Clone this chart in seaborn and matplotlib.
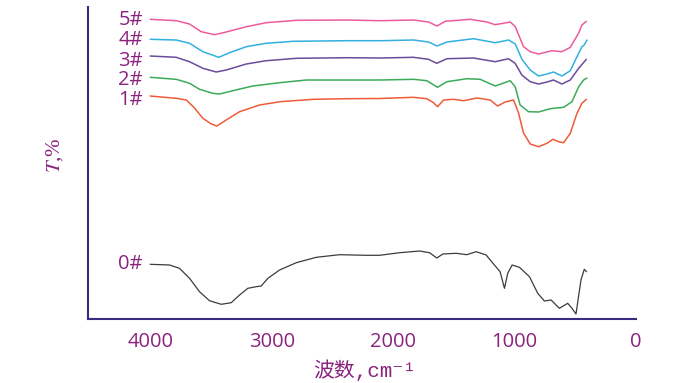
import matplotlib
matplotlib.use("Agg")
import matplotlib.pyplot as plt
import seaborn as sns
import pandas as pd

# wavenumber (cm-1) / transmittance (arbitrary offset units)
wn_1 = [4000, 3786, 3703, 3635, 3569, 3497, 3451, 3374, 3264, 3100, 2930, 2656, 2380, 2106,
        1832, 1722, 1667, 1634, 1585, 1502, 1420, 1310, 1200, 1140, 1077, 1008, 967, 926,
        871, 802, 733, 684, 638, 596, 541, 486, 445, 409]
t_1 = [223, 220.7, 219, 211, 201, 195, 193, 199, 207.3, 214, 217.3, 219.7, 220.3, 220.5,
       221.7, 220.3, 216.3, 212.3, 219, 219.7, 218.3, 221, 219, 213, 217, 219, 206, 186,
       175, 172.3, 175.7, 179.7, 177.3, 176.3, 185.7, 205.7, 215.7, 219.7]

wn_2 = [4000, 3786, 3676, 3594, 3484, 3429, 3320, 3155, 2935, 2715, 2386, 2106, 1832, 1722,
        1634, 1557, 1392, 1283, 1159, 1036, 995, 954, 885, 802, 706, 596, 527, 472, 431, 404]
t_2 = [241.7, 239.7, 235.7, 229.7, 225.7, 225, 228.3, 233, 236.3, 239, 239, 239, 239.7, 238.3,
       231.7, 237.3, 240.3, 239.7, 233, 238.3, 232.3, 214, 207.3, 207, 210.3, 211.7, 217.3,
       232.3, 239, 241]

wn_3 = [4000, 3786, 3676, 3566, 3456, 3374, 3209, 3045, 2797, 2386, 2106, 1832, 1709, 1640,
        1557, 1338, 1159, 1050, 995, 940, 871, 802, 733, 679, 610, 541, 472, 409]
t_3 = [263, 261.7, 257.3, 250.7, 247, 249, 255, 258.3, 260.7, 261.3, 261, 261.7, 259.7, 255.7,
       260.3, 261, 257.3, 260.3, 255.7, 244, 237.3, 235, 237, 239, 235, 239, 250.7, 259.7]

wn_4 = [4000, 3786, 3676, 3566, 3435, 3347, 3209, 3045, 2825, 2386, 2106, 1832, 1708, 1639,
        1557, 1338, 1159, 1049, 994, 939, 871, 802, 733, 679, 610, 541, 486, 445, 426, 404]
t_4 = [279.7, 279, 275.7, 267.3, 261.7, 266.3, 272.3, 275.7, 277.7, 278.3, 278.3, 279, 277, 273,
       277, 280.3, 276.3, 279, 275, 259.7, 249, 243, 245, 247, 243, 248.3, 262.3, 272.3, 274, 279]

wn_5 = [4000, 3786, 3676, 3580, 3470, 3374, 3209, 3045, 2797, 2386, 2106, 1832, 1708, 1639,
        1571, 1365, 1227, 1159, 1035, 994, 926, 871, 802, 692, 610, 541, 473, 445, 409]
t_5 = [299.7, 298.3, 295, 287.3, 284.3, 287, 292.3, 296.3, 298.7, 299, 298.3, 299, 297, 293,
       297.7, 299.7, 297, 294.3, 297, 292.3, 272.3, 267.3, 265, 268.3, 267.3, 271.7, 285.7, 294,
       297.7]

wn_0 = [4000, 3841, 3759, 3676, 3594, 3512, 3415, 3333, 3264, 3196, 3127, 3086, 3031, 2935,
        2797, 2633, 2441, 2221, 2111, 1946, 1782, 1700, 1640, 1590, 1480, 1393, 1316, 1234,
        1166, 1119, 1083, 1056, 1020, 960, 877, 809, 754, 699, 631, 562, 527, 494, 453, 426, 407]
t_0 = [54.7, 54, 50.7, 40.7, 27.3, 18.3, 14.7, 16.3, 24, 30.7, 32.3, 33, 40.7, 49,
       56.3, 61.7, 64.3, 63.7, 63.7, 66.3, 68, 66.3, 61, 65, 65.7, 64.3, 67.3, 64,
       54, 47.3, 30.7, 45.7, 54, 51.7, 42.3, 25.7, 18, 19, 10.7, 15.7, 10.7, 5, 39, 49.7, 47.3]

samples = ["0#", "1#", "2#", "3#", "4#", "5#"]
colors = ["#3c3c3c", "#ef5b3a", "#3daa5a", "#6b4c9a", "#33b0e0", "#ec5c9c"]
series = [(wn_0, t_0), (wn_1, t_1), (wn_2, t_2), (wn_3, t_3), (wn_4, t_4), (wn_5, t_5)]
label_y = [55, 219, 239.5, 258, 279, 299]
xticks = [4000, 3000, 2000, 1000, 0]

axis_col = "#3b2a84"
text_col = "#8b237e"

sns.set_style("white")
plt.rcParams["font.family"] = ["Open Sans", "DejaVu Sans"]
plt.rcParams["mathtext.fontset"] = "stix"

fig = plt.figure(figsize=(6.88, 3.83), dpi=100)
ax = fig.add_axes([0.1283, 0.1671, 0.7961, 0.8146])

for name, (wn, t), col in zip(samples, series, colors):
    df = pd.DataFrame({"wn": wn, "t": t})
    sns.lineplot(data=df, x="wn", y="t", ax=ax, color=col, sort=False, estimator=None,
                 lw=0.9 if name == "0#" else 1.1)

for name, y in zip(samples, label_y):
    ax.text(4060, y, name, ha="right", va="center", color=text_col, fontsize=14.5)

ax.set_xlim(4510, 0)
ax.set_ylim(0, 312)
ax.set_xticks(xticks)
ax.set_xticklabels([str(v) for v in xticks])
ax.set_yticks([])
ax.set_xlabel("")
ax.set_ylabel("")
for s in ["top", "right"]:
    ax.spines[s].set_visible(False)
for s in ["left", "bottom"]:
    ax.spines[s].set_color(axis_col)
    ax.spines[s].set_linewidth(1.5)
ax.tick_params(axis="x", direction="in", length=5, width=1.5, color=axis_col,
               labelcolor=text_col, labelsize=14.5, pad=9)

fig.text(55 / 688, 1 - 155 / 383, "$T$,%", rotation=90, ha="center", va="center",
         color=text_col, fontsize=15, family=["Liberation Serif", "DejaVu Serif"])
fig.text(365 / 688, 1 - 370 / 383, "波数,cm⁻¹", ha="center", va="center",
         color=text_col, fontsize=15,
         family=["Liberation Mono", "Noto Sans CJK SC", "DejaVu Sans"])

fig.savefig("out.png", dpi=100)
